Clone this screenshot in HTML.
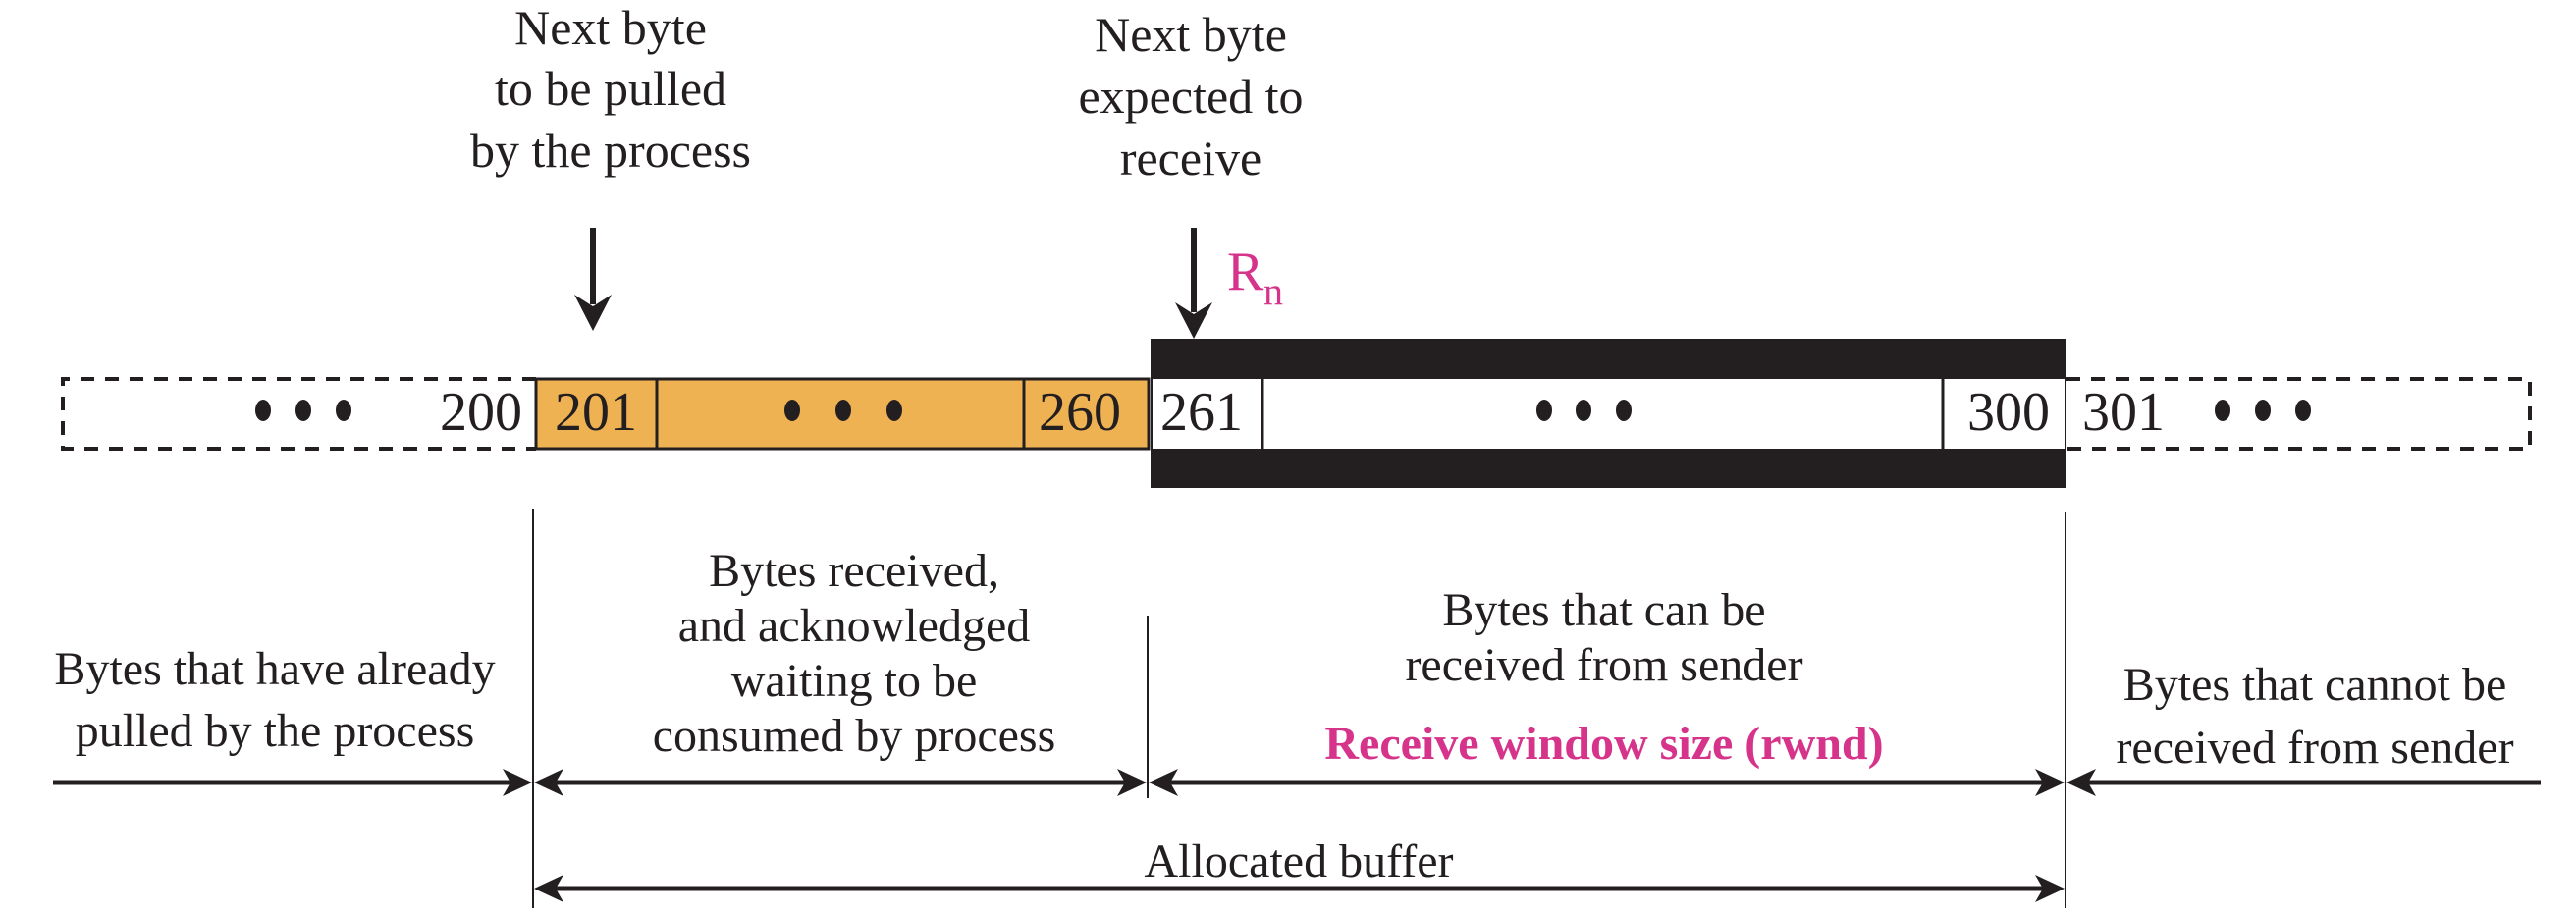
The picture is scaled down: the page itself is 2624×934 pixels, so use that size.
<!DOCTYPE html>
<html><head><meta charset="utf-8"><style>
html,body{margin:0;padding:0;background:#fff;}
svg{display:block;}
text{font-family:"Liberation Serif",serif;fill:#231f20;}
</style></head><body>
<svg width="2624" height="934" viewBox="0 0 2624 934" xmlns="http://www.w3.org/2000/svg">
<defs>
<path id="ahR" d="M0,0 L-30,-14 L-22,0 L-30,14 Z" fill="#231f20"/>
<path id="ahL" d="M0,0 L30,-14 L22,0 L30,14 Z" fill="#231f20"/>
</defs>
<!-- top labels -->
<g font-size="50" text-anchor="middle">
<text x="622" y="45">Next byte</text>
<text x="622" y="107">to be pulled</text>
<text x="622" y="170">by the process</text>
<text x="1213" y="52">Next byte</text>
<text x="1213" y="115">expected to</text>
<text x="1213" y="178">receive</text>
</g>
<!-- arrows -->
<line x1="604" y1="232" x2="604" y2="310" stroke="#231f20" stroke-width="6"/>
<path d="M604,337 L585,300 L604,312 L623,300 Z" fill="#231f20"/>
<line x1="1216" y1="232" x2="1216" y2="318" stroke="#231f20" stroke-width="6"/>
<path d="M1216,345 L1197,308 L1216,320 L1235,308 Z" fill="#231f20"/>
<text x="1250" y="295" font-size="56" style="fill:#d6338a">R</text>
<text x="1287" y="310" font-size="40" style="fill:#d6338a">n</text>
<!-- left dashed box -->
<path d="M546,386 H64 V457 H546" fill="none" stroke="#231f20" stroke-width="4" stroke-dasharray="14,11"/>
<!-- orange cells -->
<rect x="546" y="386" width="624" height="71" fill="#efb253" stroke="#231f20" stroke-width="3"/>
<line x1="669" y1="386" x2="669" y2="457" stroke="#231f20" stroke-width="3"/>
<line x1="1043" y1="386" x2="1043" y2="457" stroke="#231f20" stroke-width="3"/>
<!-- black window -->
<rect x="1172" y="345" width="933" height="152" fill="#231f20"/>
<rect x="1174" y="386" width="929" height="71" fill="#fff"/>
<line x1="1286" y1="386" x2="1286" y2="457" stroke="#231f20" stroke-width="3"/>
<line x1="1979" y1="386" x2="1979" y2="457" stroke="#231f20" stroke-width="3"/>
<!-- right dashed box -->
<path d="M2105,386 H2577 V457 H2105" fill="none" stroke="#231f20" stroke-width="4" stroke-dasharray="14,11"/>
<!-- numbers -->
<g font-size="56" text-anchor="middle">
<text x="490" y="438">200</text>
<text x="607" y="438">201</text>
<text x="1100" y="438">260</text>
<text x="1224" y="438">261</text>
<text x="2046" y="438">300</text>
<text x="2163" y="438">301</text>
</g>
<!-- dots -->
<g fill="#231f20">
<ellipse cx="268" cy="418" rx="8" ry="11"/><ellipse cx="309" cy="418" rx="8" ry="11"/><ellipse cx="350" cy="418" rx="8" ry="11"/>
<ellipse cx="807" cy="418" rx="8" ry="11"/><ellipse cx="859" cy="418" rx="8" ry="11"/><ellipse cx="911" cy="418" rx="8" ry="11"/>
<ellipse cx="1573" cy="418" rx="8" ry="11"/><ellipse cx="1613" cy="418" rx="8" ry="11"/><ellipse cx="1654" cy="418" rx="8" ry="11"/>
<ellipse cx="2264" cy="418" rx="8" ry="11"/><ellipse cx="2305" cy="418" rx="8" ry="11"/><ellipse cx="2346" cy="418" rx="8" ry="11"/>
</g>
<!-- vertical guide lines -->
<g stroke="#231f20" stroke-width="2">
<line x1="543" y1="518" x2="543" y2="925"/>
<line x1="1169" y1="627" x2="1169" y2="813"/>
<line x1="2104" y1="522" x2="2104" y2="925"/>
</g>
<!-- horizontal arrows -->
<g stroke="#231f20" stroke-width="5">
<line x1="54" y1="797" x2="525" y2="797"/>
<line x1="562" y1="797" x2="1150" y2="797"/>
<line x1="1188" y1="797" x2="2085" y2="797"/>
<line x1="2123" y1="797" x2="2588" y2="797"/>
<line x1="562" y1="905" x2="2085" y2="905"/>
</g>
<use href="#ahR" x="542" y="797"/>
<use href="#ahL" x="544" y="797"/>
<use href="#ahR" x="1168" y="797"/>
<use href="#ahL" x="1170" y="797"/>
<use href="#ahR" x="2103" y="797"/>
<use href="#ahL" x="2105" y="797"/>
<use href="#ahL" x="544" y="905"/>
<use href="#ahR" x="2103" y="905"/>
<!-- bottom labels -->
<g font-size="48" text-anchor="middle">
<text x="280" y="697">Bytes that have already</text>
<text x="280" y="760">pulled by the process</text>
<text x="870" y="597">Bytes received,</text>
<text x="870" y="653">and  acknowledged</text>
<text x="870" y="709">waiting to be</text>
<text x="870" y="765">consumed by process</text>
<text x="1634" y="637">Bytes that can be</text>
<text x="1634" y="693">received from sender</text>
<text x="1634" y="773" font-weight="bold" style="fill:#d6338a">Receive window size (rwnd)</text>
<text x="2358" y="713">Bytes that cannot be</text>
<text x="2358" y="777">received from sender</text>
<text x="1323" y="893">Allocated buffer</text>
</g>
</svg>
</body></html>
